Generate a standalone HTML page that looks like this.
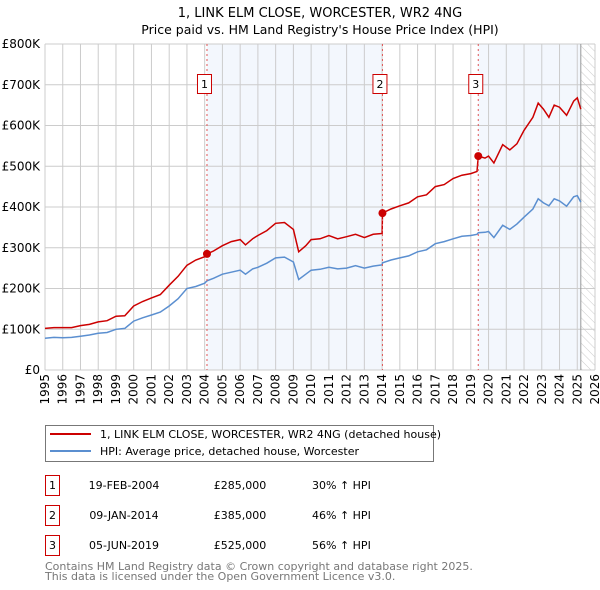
<!DOCTYPE html>
<html><head><meta charset="utf-8"><style>
body{margin:0;background:#fff;}
svg{display:block;font-family:"DejaVu Sans","Liberation Sans",sans-serif;}
</style></head><body>
<svg id="chart" width="600" height="590" viewBox="0 0 600 590">
<text x="320" y="17" text-anchor="middle" font-size="13">1, LINK ELM CLOSE, WORCESTER, WR2 4NG</text>
<text x="320" y="34" text-anchor="middle" font-size="12.5">Price paid vs. HM Land Registry's House Price Index (HPI)</text>
<defs><pattern id="hatch" width="6" height="6" patternUnits="userSpaceOnUse" patternTransform="rotate(-45)"><line x1="0" y1="0" x2="0" y2="6" stroke="#ccc" stroke-width="1"/></pattern>
<clipPath id="pc"><rect x="45" y="44" width="550" height="326"/></clipPath></defs>
<g id="bg"></g><g id="grid"></g><g id="axes"></g><g id="series" clip-path="url(#pc)"></g><g id="marks"></g>
<g>
<rect x="45.5" y="425.5" width="388" height="36" fill="#fff" stroke="#777"/>
<line x1="50" y1="434" x2="91" y2="434" stroke="#cc0000" stroke-width="2"/>
<text x="100" y="438" font-size="11">1, LINK ELM CLOSE, WORCESTER, WR2 4NG (detached house)</text>
<line x1="50" y1="451" x2="91" y2="451" stroke="#5b8fd0" stroke-width="2"/>
<text x="100" y="455" font-size="11">HPI: Average price, detached house, Worcester</text>
</g>
<g id="table" font-size="11"></g>
<text x="45" y="570" font-size="11" fill="#777">Contains HM Land Registry data © Crown copyright and database right 2025.</text>
<text x="45" y="580" font-size="11" fill="#777">This data is licensed under the Open Government Licence v3.0.</text>
</svg>
<script>
const years=[1995,1995.5,1996,1996.5,1997,1997.5,1998,1998.5,1999,1999.5,2000,2000.5,2001,2001.5,2002,2002.5,2003,2003.5,2004,2004.13,2004.5,2005,2005.5,2006,2006.3,2006.7,2007,2007.5,2008,2008.5,2009,2009.3,2009.7,2010,2010.5,2011,2011.5,2012,2012.5,2013,2013.5,2014,2014.02,2014.5,2015,2015.5,2016,2016.5,2017,2017.5,2018,2018.5,2019,2019.35,2019.42,2019.8,2020,2020.3,2020.8,2021.2,2021.6,2022,2022.5,2022.8,2023.1,2023.4,2023.7,2024,2024.4,2024.8,2025,2025.2];
const hpiValues=[78,80,79,80,83,86,90,92,100,102,120,128,135,142,157,175,200,205,213,219,225,235,240,245,235,248,252,262,275,277,265,222,235,245,247,252,248,250,256,250,255,258,263,270,275,280,290,295,310,315,322,328,330,333,337,338,340,325,355,345,358,375,395,420,410,403,420,415,402,425,428,412];
const priceValues=[102,104,104,104,109,112,118,121,132,133,157,168,177,185,208,230,257,270,278,285,292,305,315,320,307,322,330,342,360,362,345,290,305,320,322,330,322,327,333,325,333,335,385,395,403,410,425,430,450,455,470,478,482,487,525,520,525,508,553,540,555,588,620,655,640,620,650,645,625,660,668,640];
const saleLabels=["1","2","3"];
const saleYears=[2004.13,2014.02,2019.42];
const salePrices=[285,385,525];
const saleDates=["19-FEB-2004","09-JAN-2014","05-JUN-2019"];
const salePriceText=["£285,000","£385,000","£525,000"];
const saleHpiText=["30% ↑ HPI","46% ↑ HPI","56% ↑ HPI"];
const yTicks=[0,100,200,300,400,500,600,700,800];
const yTickLabels=["£0","£100K","£200K","£300K","£400K","£500K","£600K","£700K","£800K"];
const xTicks=[1995,1996,1997,1998,1999,2000,2001,2002,2003,2004,2005,2006,2007,2008,2009,2010,2011,2012,2013,2014,2015,2016,2017,2018,2019,2020,2021,2022,2023,2024,2025,2026];
const dataEnd=2025.2;

const NS="http://www.w3.org/2000/svg";
const X0=45,X1=595,Y0=370,Y1=44;
const xs=y=>X0+(y-1995)/(2026-1995)*(X1-X0);
const ys=v=>Y0-v/800*(Y0-Y1);
function mk(tag,attrs,parent){const e=document.createElementNS(NS,tag);for(const k in attrs)e.setAttribute(k,attrs[k]);parent.appendChild(e);return e;}
const bg=document.getElementById('bg'),grid=document.getElementById('grid'),axes=document.getElementById('axes'),ser=document.getElementById('series'),marks=document.getElementById('marks'),tbl=document.getElementById('table');
let r;
r=mk('rect',{x:X0,y:Y1,width:X1-X0,height:Y0-Y1,fill:'#fff'},bg);


r=mk('rect',{x:xs(saleYears[0]),y:Y1,width:xs(saleYears[1])-xs(saleYears[0]),height:Y0-Y1,fill:'#eef3fc',opacity:0.7},bg);


r=mk('rect',{x:xs(saleYears[2]),y:Y1,width:xs(dataEnd)-xs(saleYears[2]),height:Y0-Y1,fill:'#eef3fc',opacity:0.7},bg);


r=mk('rect',{x:xs(dataEnd),y:Y1,width:X1-xs(dataEnd),height:Y0-Y1,fill:'url(#hatch)'},bg);


yTicks.forEach((v,i)=>{
 const l=mk('line',{x1:X0,x2:X1,y1:ys(v),y2:ys(v),stroke:'#ccc','stroke-width':1},grid);
 
 
 const t=mk('text',{x:40,y:ys(v)+4,'text-anchor':'end','font-size':12},axes);
 t.textContent=yTickLabels[i];
 
 
});
xTicks.forEach(y=>{
 const l=mk('line',{x1:xs(y),x2:xs(y),y1:Y1,y2:Y0,stroke:'#ccc','stroke-width':1},grid);
 
 
 const t=mk('text',{x:0,y:0,'text-anchor':'end','font-size':12,transform:`translate(${xs(y)+4},${Y0+4}) rotate(-90)`},axes);
 t.textContent=y;
 
 
});
r=mk('line',{x1:xs(dataEnd),x2:xs(dataEnd),y1:Y1,y2:Y0,stroke:'#999','stroke-width':1},grid);


const pts=a=>years.map((y,i)=>xs(y).toFixed(1)+','+ys(a[i]).toFixed(1)).join(' ');
r=mk('polyline',{points:pts(hpiValues),fill:'none',stroke:'#5b8fd0','stroke-width':1.5},ser);


r=mk('polyline',{points:pts(priceValues),fill:'none',stroke:'#cc0000','stroke-width':1.5},ser);


saleYears.forEach((y,i)=>{
 const x=xs(y);
 const l=mk('line',{x1:x,x2:x,y1:Y1,y2:Y0,stroke:'#e05555','stroke-width':1,'stroke-dasharray':'2,3'},marks);
 
 
 const b=mk('rect',{x:x-9.5,y:74.5,width:14,height:19,fill:'#fff',stroke:'#cc0000'},marks);
 
 
 const t=mk('text',{x:x-2.5,y:88,'text-anchor':'middle','font-size':11},marks);
 t.textContent=saleLabels[i];
 
 
 const c=mk('circle',{cx:x,cy:ys(salePrices[i]),r:4,fill:'#cc0000'},marks);
 
 
 const ry=475+i*30;
 const tb=mk('rect',{x:45.5,y:ry+0.5,width:14,height:20,fill:'#fff',stroke:'#cc0000'},tbl);
 
 
 const tl=mk('text',{x:52.5,y:ry+14,'text-anchor':'middle'},tbl);
 tl.textContent=saleLabels[i];
 
 
 const td=mk('text',{x:124,y:ry+14,'text-anchor':'middle'},tbl);
 td.textContent=saleDates[i];
 
 
 const tp=mk('text',{x:240,y:ry+14,'text-anchor':'middle'},tbl);
 tp.textContent=salePriceText[i];
 
 
 const th=mk('text',{x:312,y:ry+14},tbl);
 th.textContent=saleHpiText[i];
 
 
});
</script>
</body></html>
